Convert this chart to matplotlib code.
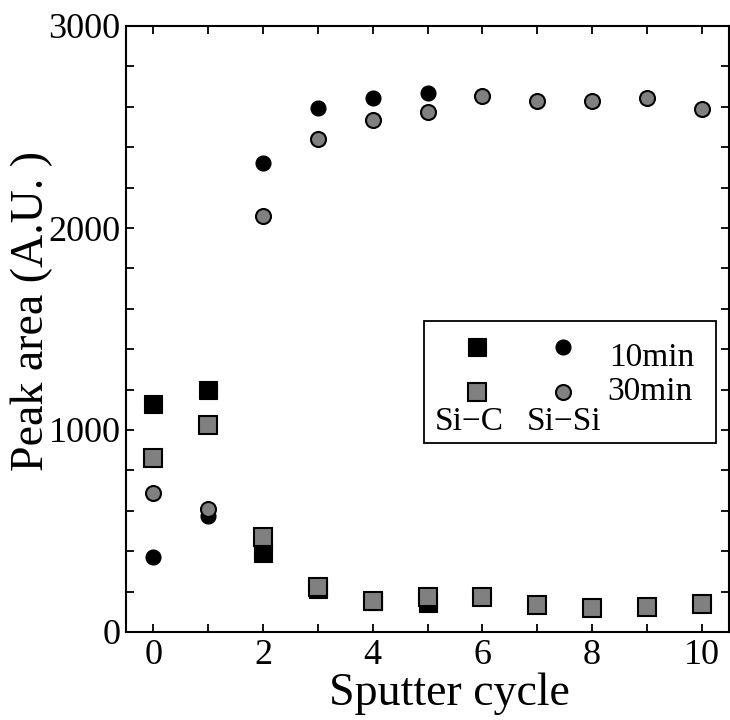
import matplotlib
matplotlib.use("Agg")
import matplotlib.pyplot as plt
from matplotlib.ticker import MultipleLocator
from matplotlib.patches import Rectangle

# Peak areas from the fits, per sputter cycle
cycles_10 = [0, 1, 2, 3, 4, 5]
sic_10 = [1130, 1198, 390, 213, 153, 142]
sisi_10 = [373, 575, 2320, 2592, 2645, 2670]

cycles_30 = [0, 1, 2, 3, 4, 5, 6, 7, 8, 9, 10]
sic_30 = [863, 1025, 469, 224, 155, 172, 172, 134, 117, 122, 139]
sisi_30 = [687, 607, 2059, 2439, 2535, 2573, 2653, 2630, 2629, 2645, 2589]

series_labels = ["10min", "30min"]
column_labels = ["Si\u2212C", "Si\u2212Si"]

plt.rcParams["font.family"] = ["Liberation Serif", "DejaVu Serif"]

fig = plt.figure(figsize=(7.3, 7.2), dpi=100)
ax = fig.add_axes([126 / 730, 1 - 632 / 720, 603 / 730, 606 / 720])

gray = "#808080"
sq = 12.8
ci = 10.8

# 10 min exposure (black) drawn first, 30 min (gray) on top
ax.plot(cycles_10, sic_10, ls="none", marker="s", ms=sq, mfc="black", mec="black", mew=0.8)
ax.plot(cycles_10, sisi_10, ls="none", marker="o", ms=ci, mfc="black", mec="black", mew=0.8)
ax.plot(cycles_30, sic_30, ls="none", marker="s", ms=sq, mfc=gray, mec="black", mew=1.5)
ax.plot(cycles_30, sisi_30, ls="none", marker="o", ms=ci, mfc=gray, mec="black", mew=1.5)

ax.set_xlim(-0.5, 10.5)
ax.set_ylim(0, 3000)
ax.xaxis.set_major_locator(MultipleLocator(2))
ax.xaxis.set_minor_locator(MultipleLocator(1))
ax.yaxis.set_major_locator(MultipleLocator(1000))
ax.yaxis.set_minor_locator(MultipleLocator(200))
ax.tick_params(which="both", direction="in", top=True, right=True,
               length=6, width=1.3, labelsize=26)
ax.tick_params(axis="y", which="major", pad=4)
ax.tick_params(axis="x", which="major", pad=5)
for s in ax.spines.values():
    s.set_linewidth(1.5)

ax.set_xlabel("Sputter cycle", fontsize=33)
ax.xaxis.label.set_va("baseline")
ax.xaxis.set_label_coords(0.536, -0.1205)
ax.set_ylabel("Peak area (A.U. )", fontsize=33)
ax.yaxis.set_label_coords(-0.121, 0.530)

# Key: marker grid with column headers underneath
T = ax.transAxes
ax.add_patch(Rectangle((0.494, 0.312), 0.484, 0.201, transform=T,
                       fill=True, facecolor="white", edgecolor="black", lw=1.3, zorder=5))
rows_y = [0.4708, 0.3965]
cols_x = [0.5816, 0.7242]
face = ["black", gray]
mew = [0.8, 1.5]
for r in range(2):
    ax.plot([cols_x[0]], [rows_y[r]], transform=T, ls="none", marker="s", ms=sq,
            mfc=face[r], mec="black", mew=mew[r], zorder=6, clip_on=False)
    ax.plot([cols_x[1]], [rows_y[r]], transform=T, ls="none", marker="o", ms=ci,
            mfc=face[r], mec="black", mew=mew[r], zorder=6, clip_on=False)
ax.text(0.801, 0.4389, series_labels[0], transform=T, fontsize=24, va="baseline", zorder=6)
ax.text(0.798, 0.3828, series_labels[1], transform=T, fontsize=24, va="baseline", zorder=6)
ax.text(0.5124, 0.3333, column_labels[0], transform=T, fontsize=24, va="baseline", zorder=6)
ax.text(0.665, 0.3333, column_labels[1], transform=T, fontsize=24, va="baseline", zorder=6)

fig.savefig("out.png", dpi=100)
